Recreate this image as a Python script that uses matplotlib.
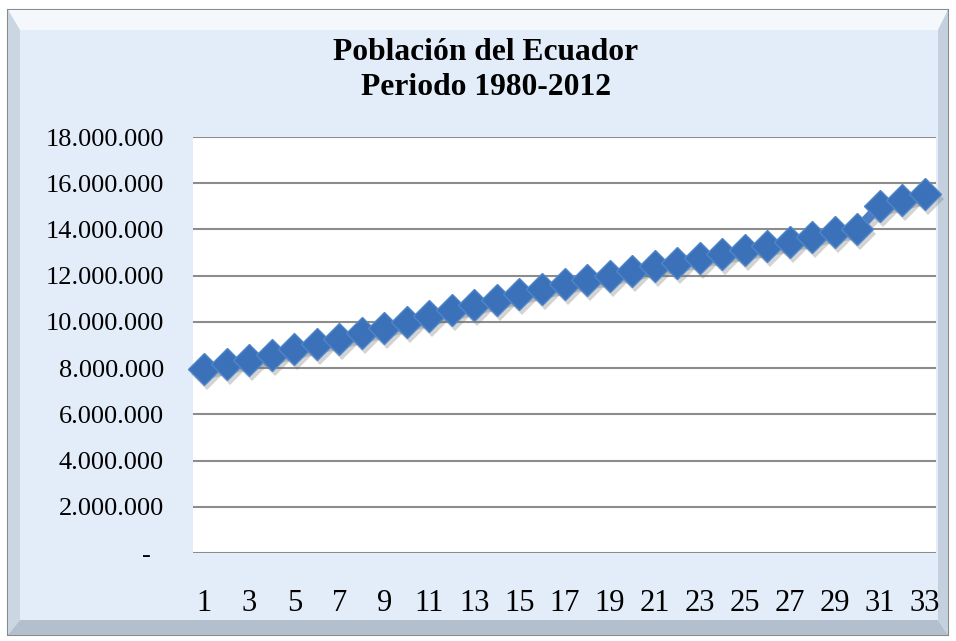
import matplotlib
matplotlib.use("Agg")
import matplotlib.pyplot as plt
import matplotlib.transforms as mtransforms
from matplotlib.patches import Polygon, Rectangle
from matplotlib.ticker import FuncFormatter, FixedLocator

# ---- data ----
periods = list(range(1, 34))
population = [7961000, 8165000, 8372000, 8582000, 8820000, 9050000, 9270000,
              9510000, 9750000, 10010000, 10260000, 10500000, 10740000,
              10960000, 11190000, 11420000, 11640000, 11820000, 12000000,
              12210000, 12410000, 12560000, 12780000, 12930000, 13100000,
              13270000, 13460000, 13670000, 13890000, 14010000, 15010000,
              15270000, 15520000]
x_tick_labels = [str(i) for i in range(1, 34, 2)]
y_ticks = list(range(0, 18000001, 2000000))
title_text = "Población del Ecuador\nPeriodo 1980-2012"

W, H = 956, 641
fig = plt.figure(figsize=(W / 100, H / 100), dpi=100)
fig.patch.set_facecolor("white")

def px(x, y):
    return (x / W, 1 - y / H)

# ---- bevelled frame ----
ol, ot, orr, ob = 8, 10, 948, 635
il, it, ir, ib = 20, 30, 938, 620
panel = "#E3EDF9"
fig.patches.append(Rectangle(px(ol, ob), (orr - ol) / W, (ob - ot) / H,
                             transform=fig.transFigure, facecolor=panel,
                             edgecolor="#8A8A8A", linewidth=1.5, zorder=-3))
bevels = [
    ([(ol, ot), (orr, ot), (ir, it), (il, it)], "#F4F8FD"),   # top
    ([(ol, ot), (il, it), (il, ib), (ol, ob)], "#CBD6E3"),    # left
    ([(ol, ob), (il, ib), (ir, ib), (orr, ob)], "#B3BFCD"),   # bottom
    ([(orr, ot), (orr, ob), (ir, ib), (ir, it)], "#C4D0DE"),  # right
]
for pts, col in bevels:
    fig.patches.append(Polygon([px(*p) for p in pts], closed=True,
                               transform=fig.transFigure, facecolor=col,
                               edgecolor="none", zorder=-2))

# ---- axes ----
al, at, ar, ab = 193, 137, 936, 553
ax = fig.add_axes([al / W, 1 - ab / H, (ar - al) / W, (ab - at) / H])
ax.set_zorder(1)
ax.set_facecolor("white")
for s in ax.spines.values():
    s.set_visible(False)

ax.set_xlim(0.5, 33.5)
ax.set_ylim(0, 18000000)
ax.yaxis.set_major_locator(FixedLocator(y_ticks))
ax.grid(axis="y", color="#8C8C8C", linewidth=1.5)
ax.set_axisbelow(True)

def yfmt(v, pos):
    if v == 0:
        return "-  "
    return f"{int(v):,}".replace(",", ".")

ax.yaxis.set_major_formatter(FuncFormatter(yfmt))
ax.set_xticks(range(1, 34, 2))
ax.set_xticklabels(x_tick_labels)
ax.tick_params(axis="both", length=0)
ax.tick_params(axis="y", pad=21, labelsize=19)
ax.tick_params(axis="x", pad=26, labelsize=22)
for lbl in ax.get_xticklabels() + ax.get_yticklabels():
    lbl.set_fontfamily("Liberation Serif")
    lbl.set_color("black")

# shadow
shadow = mtransforms.offset_copy(ax.transData, fig=fig, x=3, y=-5, units="dots")
ax.plot(periods, population, color="#6f6f6f", alpha=0.3, linewidth=7,
        marker="D", markersize=16, markeredgewidth=0, transform=shadow,
        solid_joinstyle="round", clip_on=False, zorder=2)
ax.plot(periods, population, color="#4A7EC0", linewidth=7,
        marker="D", markersize=16, markerfacecolor="#3A71B9",
        markeredgecolor="#4F86C9", markeredgewidth=1, solid_joinstyle="round",
        clip_on=False, zorder=3)

fig.text(486 / W, 1 - 70 / H, title_text, ha="center", va="center",
         fontsize=22.7, fontweight="bold", family="Liberation Serif",
         linespacing=1.3, zorder=5)

fig.savefig("out.png", dpi=100)
